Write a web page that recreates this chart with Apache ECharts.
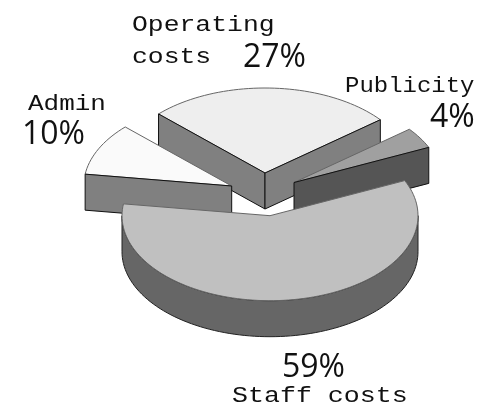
<!DOCTYPE html>
<html><head><meta charset="utf-8">
<style>html,body{margin:0;padding:0;background:#fff}#c{width:482px;height:404px}</style>
<script src="https://cdn.jsdelivr.net/npm/echarts@6/dist/echarts.min.js"></script>
</head><body><div id="c"></div>
<script>
// data (clockwise from the first slice)
const categories = ['Operating\ncosts', 'Publicity', 'Staff costs', 'Admin'];
const shares = [27, 4, 59, 10];
const percentLabels = ['27%', '4%', '59%', '10%'];

// appearance / layout
const startAngle = 136, rx = 148, ry = 85, depth = 36;
const apexes = [[265, 173], [294, 182.5], [270, 215.7], [231.7, 186]];
const drawOrder = [0, 2, 3, 1];
const topColors = ['#eeeeee', '#a0a0a0', '#c0c0c0', '#fafafa'];
const wallColors = ['#808080', '#555555', '#666666', '#808080'];
const namePos = [[132, 9], [345, 70], [232, 380], [28, 88]];
const nameStretch = [1.2, 1.09, 1.21, 1.18];
const pctPos = [[243, 42], [430, 102], [282, 352], [22, 119]];
const nameFont = '22px "Liberation Mono", monospace';
const pctFont = '32px "Open Sans", sans-serif';

const total = shares.reduce((a, b) => a + b, 0);
const rad = d => d * Math.PI / 180;
function arcPts(c, a0, a1, dy) {
  const n = Math.max(2, Math.ceil(Math.abs(a0 - a1) / 2)), p = [];
  for (let i = 0; i <= n; i++) {
    const a = rad(a0 + (a1 - a0) * i / n);
    p.push([c[0] + rx * Math.cos(a), c[1] - ry * Math.sin(a) + dy]);
  }
  return p;
}
function poly(points, fill, stroke, z2) {
  return { type: 'polygon', z2, shape: { points }, style: { fill, stroke, lineWidth: 1 } };
}
function renderItem(params) {
  const i = params.dataIndex;
  const before = shares.slice(0, i).reduce((a, b) => a + b, 0);
  const a0 = startAngle - before / total * 360;
  const a1 = a0 - shares[i] / total * 360;
  const c = apexes[i], z = drawOrder[i] * 10 + 1, kids = [];
  const top = arcPts(c, a0, a1, 0);
  kids.push(poly([c].concat(top), topColors[i], '#666666', z + 1));
  const radial = a => {
    const e = arcPts(c, a, a, 0)[0];
    kids.push(poly([c, e, [e[0], e[1] + depth], [c[0], c[1] + depth]], wallColors[i], '#111111', z + 2));
  };
  if (Math.cos(rad(a0)) < 0) radial(a0);
  if (Math.cos(rad(a1)) > 0) radial(a1);
  // outer rim: only the part of the arc on the near side
  if (a1 < 0 && a0 - a1 > 90) {
    const hi = Math.min(a0, 0), lo = Math.max(a1, -180);
    const up = arcPts(c, hi, lo, 0), dn = arcPts(c, lo, hi, depth);
    kids.push(poly(up.concat(dn), wallColors[i], '#222222', z));
  }
  kids.push({ type: 'text', z2: 200, x: namePos[i][0], y: namePos[i][1], scaleX: nameStretch[i], style: { x: 0, y: 0, text: categories[i], font: nameFont, fill: '#111', lineHeight: 32 } });
  kids.push({ type: 'text', z2: 200, style: { x: pctPos[i][0], y: pctPos[i][1], text: percentLabels[i], font: pctFont, fill: '#111' } });
  return { type: 'group', children: kids };
}
const chart = echarts.init(document.getElementById('c'), null, { renderer: 'canvas' });
chart.setOption({
  animation: false,
  backgroundColor: '#ffffff',
  series: [{ type: 'custom', coordinateSystem: 'none', silent: true, renderItem, data: shares.map((v, i) => [v, i]) }]
});
</script></body></html>
